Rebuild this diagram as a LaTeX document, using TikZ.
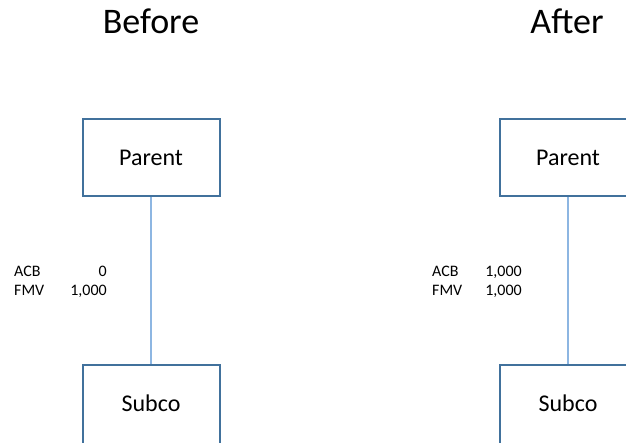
\documentclass[tikz,border=0pt]{standalone}
\usepackage{fontspec}
\setmainfont{Carlito}
\definecolor{boxline}{HTML}{41719C}
\definecolor{linkline}{HTML}{8DB6E2}
\begin{document}
\begin{tikzpicture}[x=1pt,y=-1pt,
  entity/.style={draw=boxline,line width=2pt,fill=white,minimum width=137pt,
    inner sep=0pt},
  boxtext/.style={font=\fontsize{24}{28}\selectfont,inner sep=0pt},
  heading/.style={font=\fontsize{36}{40}\selectfont,inner sep=0pt},
  figure/.style={font=\fontsize{16}{19}\selectfont,inner sep=0pt},
  link/.style={draw=linkline,line width=1.2pt}]
\useasboundingbox (0,0) rectangle (626,443);
\clip (0,0) rectangle (626,443);

% Before
\node[heading] (titleL) at (151,21) {Before};
\node[entity,minimum height=77pt] (parentL) at (151,157.5) {};
\node[boxtext] (parentLtext) at (parentL) {Parent};
\node[entity,minimum height=82pt] (subcoL) at (151,406) {};
\node[boxtext] (subcoLtext) at (151,403) {Subco};
\draw[link] (parentL.south) -- (subcoL.north);
\node[figure,anchor=base west] (acbL) at (14,277) {ACB};
\node[figure,anchor=base east] (acbLval) at (107,277) {0};
\node[figure,anchor=base west] (fmvL) at (14,296) {FMV};
\node[figure,anchor=base east] (fmvLval) at (107,296) {1,000};

% After
\node[heading] (titleR) at (567,21) {After};
\node[entity,minimum height=77pt] (parentR) at (568,157.5) {};
\node[boxtext] (parentRtext) at (parentR) {Parent};
\node[entity,minimum height=82pt] (subcoR) at (568,406) {};
\node[boxtext] (subcoRtext) at (568,403) {Subco};
\draw[link] (parentR.south) -- (subcoR.north);
\node[figure,anchor=base west] (acbR) at (432,277) {ACB};
\node[figure,anchor=base east] (acbRval) at (522,277) {1,000};
\node[figure,anchor=base west] (fmvR) at (432,296) {FMV};
\node[figure,anchor=base east] (fmvRval) at (522,296) {1,000};
\end{tikzpicture}
\end{document}
